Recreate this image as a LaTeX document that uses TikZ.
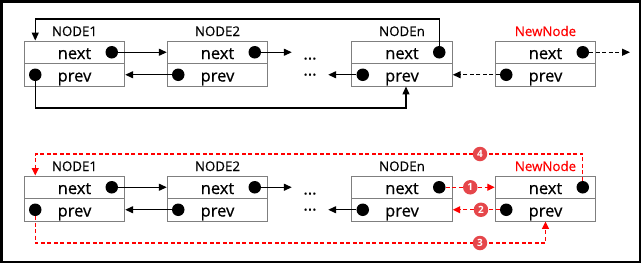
\documentclass[tikz,border=0pt]{standalone}
\usepackage{fontspec}
\setmainfont{Open Sans}
\newfontfamily\cellfont[FakeBold=0.5]{Open Sans}
\usetikzlibrary{arrows.meta}
\definecolor{boxgray}{HTML}{7F7F7F}
\definecolor{lred}{HTML}{FF0000}
\definecolor{bred}{HTML}{E5474B}
\newcommand\lnode[5]{%
  \node[cell] (#1n) at (#2,#3+11.25) {next};
  \node[cell] (#1p) at (#2,#3+33.75) {prev};
  \node[lab,text=#5] (#1l) at (#2,#3-5) {#4};
  \node[dot] (#1dn) at (#2+37.25,#3+11.25) {};
  \node[dot] (#1dp) at (#2-39.25,#3+33.75) {};
}
\begin{document}
\begin{tikzpicture}[x=1pt,y=-1pt,
  cell/.style={draw=boxgray,line width=0.9pt,minimum width=100.5pt,minimum height=22.5pt,
    inner sep=0pt,font=\cellfont\fontsize{16.5}{18}\selectfont,text height=15pt,text depth=1.5pt},
  lab/.style={anchor=base,inner sep=0pt,font=\cellfont\fontsize{13.3}{15}\selectfont},
  dot/.style={circle,fill=black,minimum size=12.5pt,inner sep=0pt},
  ell/.style={anchor=base,inner sep=0pt,minimum width=36pt,font=\cellfont\fontsize{16.5}{18}\selectfont},
  arr/.style={line width=1.3pt,-{Triangle[length=8pt,width=7pt]}},
  darr/.style={line width=1.3pt,dash pattern=on 4pt off 2.5pt,-{Triangle[length=8pt,width=7pt]}},
  rarr/.style={lred,line width=1.2pt,dash pattern=on 4pt off 2.5pt,-{Triangle[length=7.5pt,width=7pt]}},
  badge/.style={circle,fill=bred,text=white,minimum size=14.5pt,inner sep=0pt,
    font=\fontsize{10}{11}\selectfont\bfseries}
]
\useasboundingbox (0,0) rectangle (641,263);
\draw[line width=2.5pt] (1.25,1.25) rectangle (639.75,261.75);

% ---------- top panel ----------
\lnode{a}{74.5}{41}{NODE1}{black}
\lnode{b}{217.5}{41}{NODE2}{black}
\lnode{c}{402}{41}{NODEn}{black}
\lnode{d}{545.5}{41}{NewNode}{lred}
\node[ell] (ta) at (310,59.5) {...};
\node[ell] (tb) at (310,80.5) {···};

\draw[arr] (adn.east) -- (bn.west);
\draw[arr] (bdp.west) -- (ap.east);
\draw[arr] (bdn.east) -- (bdn -| ta.west);
\draw[arr] (cdp.west) -- (cdp -| tb.east);
\coordinate (ttop) at (0,19);
\draw[arr] (cdn.north) |- (ttop -| adp) -- (adp |- an.north);
\coordinate (tbot) at (406,108);
\draw[arr] (adp.south) |- (tbot) -- (tbot |- cp.south);
\coordinate (tout) at (630,52.25);
\draw[darr] (ddn.east) -- (tout);
\draw[darr] (ddp.west) -- (cp.east);

% ---------- bottom panel ----------
\lnode{e}{74.5}{176}{NODE1}{black}
\lnode{f}{217.5}{176}{NODE2}{black}
\lnode{g}{402}{176}{NODEn}{black}
\lnode{h}{545.5}{176}{NewNode}{lred}
\node[ell] (ba) at (310,194.5) {...};
\node[ell] (bb) at (310,215.5) {···};

\draw[arr] (edn.east) -- (fn.west);
\draw[arr] (fdp.west) -- (ep.east);
\draw[arr] (fdn.east) -- (fdn -| ba.west);
\draw[arr] (gdp.west) -- (gdp -| bb.east);

\draw[rarr] (gdn.east) -- node[badge,pos=0.5]{1} (hn.west);
\draw[rarr] (hdp.west) -- node[badge,pos=0.4]{2} (gp.east);
\coordinate (b4) at (480,154);
\draw[rarr] (hdn.north) |- (b4) node[badge]{4} -- (b4 -| edp) -- (edp |- en.north);
\coordinate (b3) at (480,243);
\draw[rarr] (edp.south) |- (b3) node[badge]{3} -- (b3 -| hp.south) -- (hp.south);
\end{tikzpicture}
\end{document}
